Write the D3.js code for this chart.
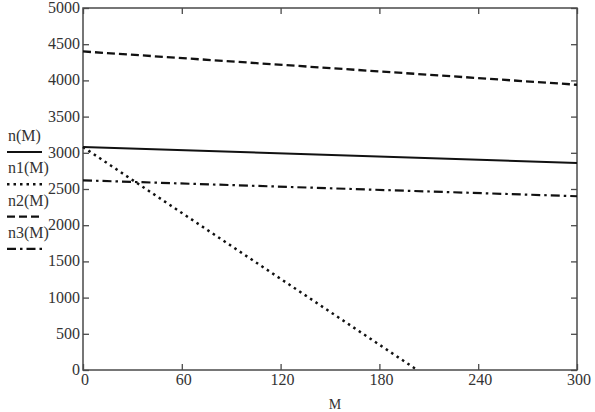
<!DOCTYPE html>
<html><head><meta charset="utf-8">
<script src="https://cdn.jsdelivr.net/npm/d3@7"></script>
<style>body{margin:0;background:#fff}svg{display:block}</style>
</head><body>
<svg id="c" width="595" height="412"></svg>
<script>
const xTicks = [0, 60, 120, 180, 240, 300];
const yTicks = [0, 500, 1000, 1500, 2000, 2500, 3000, 3500, 4000, 4500, 5000];
const M = [0, 300];
const n = [3080, 2860];
const M1 = [0, 203];
const n1 = [3080, 0];
const n2 = [4400, 3940];
const n3 = [2620, 2400];
const legendLabels = ["n(M)", "n1(M)", "n2(M)", "n3(M)"];

const svg = d3.select("#c");
const L = 83, R = 577, T = 8, B = 370;
const x = d3.scaleLinear().domain([0, 300]).range([L, R]);
const y = d3.scaleLinear().domain([0, 5000]).range([B, T]);
const axisCol = "#4a4a4a";
const txtCol = "#333";
const font = "'Liberation Serif', 'Times New Roman', serif";

// frame
svg.append("rect").attr("x", L).attr("y", T).attr("width", R - L).attr("height", B - T)
  .attr("fill", "none").attr("stroke", axisCol).attr("stroke-width", 1.5);

const gl = svg.append("g").attr("transform", `translate(${L},0)`)
  .call(d3.axisRight(y).tickValues(yTicks).tickSize(6).tickFormat(""));
const gr = svg.append("g").attr("transform", `translate(${R},0)`)
  .call(d3.axisLeft(y).tickValues(yTicks).tickSize(6).tickFormat(""));
const gb = svg.append("g").attr("transform", `translate(0,${B})`)
  .call(d3.axisTop(x).tickValues(xTicks).tickSize(6).tickFormat(""));
const gt = svg.append("g").attr("transform", `translate(0,${T})`)
  .call(d3.axisBottom(x).tickValues(xTicks).tickSize(6).tickFormat(""));
[gl, gr, gb, gt].forEach(g => {
  g.select(".domain").remove();
  g.selectAll("line").attr("stroke", axisCol).attr("stroke-width", 1.3);
});

// tick labels
svg.append("g").selectAll("text").data(yTicks).join("text")
  .attr("x", L - 3).attr("y", d => y(d) + 5)
  .attr("text-anchor", "end").attr("font-family", font).attr("font-size", 16).attr("fill", txtCol)
  .text(d => d);
svg.append("g").selectAll("text").data(xTicks).join("text")
  .attr("x", d => x(d) + 2).attr("y", B + 15)
  .attr("text-anchor", "middle").attr("font-family", font).attr("font-size", 16).attr("fill", txtCol)
  .text(d => d);
svg.append("text").attr("x", 335).attr("y", 409).attr("text-anchor", "middle")
  .attr("font-family", font).attr("font-size", 14).attr("fill", txtCol).text("M");

const line = d3.line().x(d => x(d[0])).y(d => y(d[1]));
const styles = [
  { dash: null, w: 2 },
  { dash: "2.5,4", w: 2.5 },
  { dash: "8,4", w: 2.3 },
  { dash: "9,4,2.5,4", w: 2.2 }
];
const series = [
  d3.zip(M, n), d3.zip(M1, n1), d3.zip(M, n2), d3.zip(M, n3)
];
const plot = svg.append("g");
series.forEach((s, i) => {
  plot.append("path").attr("d", line(s)).attr("fill", "none").attr("stroke", "#111")
    .attr("stroke-width", styles[i].w).attr("stroke-dasharray", styles[i].dash);
});

// legend
const lg = svg.append("g");
legendLabels.forEach((lab, i) => {
  const ty = 141 + i * 32.3;
  lg.append("text").attr("x", 8).attr("y", ty).attr("font-family", font).attr("font-size", 16)
    .attr("fill", txtCol).text(lab);
  lg.append("line").attr("x1", 7).attr("x2", 42).attr("y1", ty + 11).attr("y2", ty + 11)
    .attr("stroke", "#111").attr("stroke-width", styles[i].w).attr("stroke-dasharray", styles[i].dash);
});
</script>
</body></html>
